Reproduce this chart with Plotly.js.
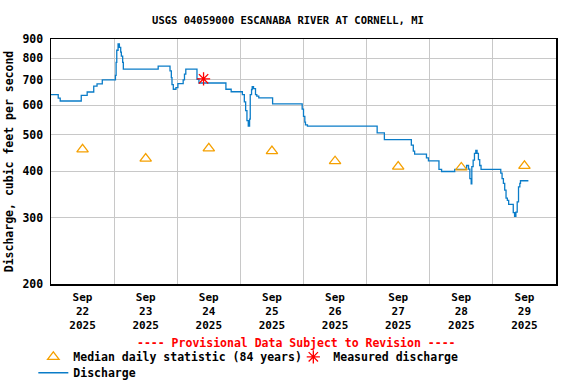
<!DOCTYPE html>
<html>
<head>
<meta charset="utf-8">
<script src="https://cdn.plot.ly/plotly-3.0.1.min.js"></script>
<style>html,body{margin:0;padding:0;background:#fff}#chart{width:576px;height:384px}</style>
</head>
<body>
<div id="chart"></div>
<script>
// Discharge (cfs), breakpoints of the stepped 15-minute record
const dischargeTimes = [
  "2025-09-22 00:00","2025-09-22 02:45","2025-09-22 03:30","2025-09-22 11:30","2025-09-22 13:45",
  "2025-09-22 16:15","2025-09-22 17:30","2025-09-22 19:30","2025-09-23 00:30","2025-09-23 00:45",
  "2025-09-23 01:00","2025-09-23 01:30","2025-09-23 02:00","2025-09-23 02:30","2025-09-23 02:45",
  "2025-09-23 03:15","2025-09-23 03:30","2025-09-23 16:45","2025-09-23 21:15","2025-09-23 21:45",
  "2025-09-23 22:00","2025-09-23 22:30","2025-09-23 23:30","2025-09-24 00:15","2025-09-24 02:15",
  "2025-09-24 02:45","2025-09-24 03:15","2025-09-24 07:30","2025-09-24 08:15","2025-09-24 18:30",
  "2025-09-24 20:30","2025-09-25 00:45","2025-09-25 01:30","2025-09-25 02:00","2025-09-25 02:30",
  "2025-09-25 03:00","2025-09-25 03:30","2025-09-25 03:45","2025-09-25 04:15","2025-09-25 04:30",
  "2025-09-25 05:00","2025-09-25 05:45","2025-09-25 06:15","2025-09-25 07:00","2025-09-25 12:15",
  "2025-09-25 23:30","2025-09-26 00:00","2025-09-26 00:30","2025-09-26 00:45","2025-09-26 01:30",
  "2025-09-27 04:00","2025-09-27 06:45","2025-09-27 17:00","2025-09-27 17:45","2025-09-27 18:15",
  "2025-09-27 22:45","2025-09-27 23:30","2025-09-28 03:30","2025-09-28 04:30","2025-09-28 09:30",
  "2025-09-28 14:00","2025-09-28 14:45","2025-09-28 15:15","2025-09-28 15:45","2025-09-28 16:00",
  "2025-09-28 16:30","2025-09-28 17:00","2025-09-28 17:30","2025-09-28 18:00","2025-09-28 18:30",
  "2025-09-28 19:00","2025-09-28 19:30","2025-09-29 03:00","2025-09-29 03:30","2025-09-29 04:00",
  "2025-09-29 04:30","2025-09-29 05:00","2025-09-29 05:30","2025-09-29 06:00","2025-09-29 07:45",
  "2025-09-29 08:15","2025-09-29 08:45","2025-09-29 09:15","2025-09-29 09:45","2025-09-29 10:15",
  "2025-09-29 10:30","2025-09-29 13:30"
];
const dischargeValues = [
  640,626,615,637,650,
  674,683,700,720,780,
  840,874,855,830,810,
  780,748,762,740,710,
  680,661,668,684,700,
  725,748,703,687,661,
  651,640,612,580,545,
  527,550,640,660,672,
  664,640,634,627,604,
  585,560,540,531,527,
  506,485,469,452,444,
  434,426,404,399,404,
  414,405,382,370,411,
  428,446,454,446,429,
  414,404,395,382,371,
  356,339,334,326,310,
  303,311,331,363,371,
  377,377
];

// Median daily statistic (84 years), plotted at noon of each day
const medianTimes = ["2025-09-22 12:00","2025-09-23 12:00","2025-09-24 12:00","2025-09-25 12:00",
                     "2025-09-26 12:00","2025-09-27 12:00","2025-09-28 12:00","2025-09-29 12:00"];
const medianValues = [457,432,460,452,425,411,409,413];

// Measured discharge
const measuredTimes = ["2025-09-24 10:00"];
const measuredValues = [705];

// Axis ticks
const xTickVals = medianTimes;
const xTickText = ["Sep<br>22<br>2025","Sep<br>23<br>2025","Sep<br>24<br>2025","Sep<br>25<br>2025",
                   "Sep<br>26<br>2025","Sep<br>27<br>2025","Sep<br>28<br>2025","Sep<br>29<br>2025"];
const yTickVals = [200,300,400,500,600,700,800,900];
const yTickText = ["200","300","400","500","600","700","800","900"];

const FONT = "DejaVu Sans Mono, monospace";

const traces = [
  {
    x: dischargeTimes, y: dischargeValues, type: "scatter", mode: "lines",
    line: {shape: "hv", color: "#0a7cc8", width: 1.3},
    name: "Discharge", legend: "legend2", hoverinfo: "skip"
  },
  {
    x: medianTimes, y: medianValues, type: "scatter", mode: "markers",
    marker: {symbol: "triangle-up-open", size: 10, color: "#f5a000", line: {width: 1.3, color: "#f5a000"}},
    name: "Median daily statistic (84 years)", legend: "legend", legendrank: 1
  },
  {
    x: measuredTimes, y: measuredValues, type: "scatter", mode: "markers",
    marker: {symbol: "asterisk-open", size: 11, color: "#ff0000", line: {width: 1.3, color: "#ff0000"}},
    name: "Measured discharge", legend: "legend", legendrank: 2
  }
];

const legendFont = {family: FONT, size: 11.5, color: "#000", weight: "bold"};

const layout = {
  width: 576, height: 384,
  margin: {l: 51, r: 20, t: 39, b: 100, autoexpand: false},
  paper_bgcolor: "#fff", plot_bgcolor: "#fff",
  font: {family: FONT, size: 11.5, color: "#000", weight: "bold"},
  title: {text: "USGS 04059000 ESCANABA RIVER AT CORNELL, MI",
          font: {family: FONT, size: 10.5, color: "#000", weight: "bold"},
          x: 0.5, xanchor: "center", y: 0.948, yanchor: "middle", yref: "container"},
  xaxis: {
    type: "date",
    range: ["2025-09-22 00:00", "2025-09-30 00:00"],
    tickmode: "array", tickvals: xTickVals, ticktext: xTickText,
    showgrid: false, ticks: "", zeroline: false, ticklabelstandoff: 2,
    showline: true, linecolor: "#000", linewidth: 1.5, mirror: true,
    tickfont: {family: FONT, size: 11, color: "#000", weight: "bold"},
    minor: {tick0: "2025-09-22 00:00", dtick: 86400000, showgrid: true, gridcolor: "#c8c8c8", gridwidth: 1, ticks: ""},
    fixedrange: true
  },
  yaxis: {
    type: "log",
    range: [Math.log10(200), Math.log10(900)],
    tickmode: "array", tickvals: yTickVals, ticktext: yTickText,
    showgrid: true, gridcolor: "#c8c8c8", gridwidth: 1, ticks: "", zeroline: false, ticklabelstandoff: 4,
    showline: true, linecolor: "#000", linewidth: 1.5, mirror: true,
    tickfont: {family: FONT, size: 11.5, color: "#000", weight: "bold"},
    title: {text: "Discharge, cubic feet per second", standoff: 6,
            font: {family: FONT, size: 11.5, color: "#000", weight: "bold"}},
    fixedrange: true
  },
  showlegend: true,
  legend: {
    orientation: "h", x: -0.035, xanchor: "left", y: -0.238, yanchor: "top",
    entrywidth: 215, entrywidthmode: "pixels",
    font: legendFont, bgcolor: "rgba(0,0,0,0)", borderwidth: 0, itemwidth: 30
  },
  legend2: {
    orientation: "h", x: -0.035, xanchor: "left", y: -0.303, yanchor: "top",
    font: legendFont, bgcolor: "rgba(0,0,0,0)", borderwidth: 0, itemwidth: 30
  },
  annotations: [{
    text: "---- Provisional Data Subject to Revision ----",
    xref: "paper", yref: "paper", x: 0.487, y: -0.241, xanchor: "center", yanchor: "middle",
    showarrow: false, font: {family: FONT, size: 11.5, color: "#ff0000", weight: "bold"}
  }]
};

Plotly.newPlot("chart", traces, layout, {displayModeBar: false, staticPlot: true});
</script>
</body>
</html>
